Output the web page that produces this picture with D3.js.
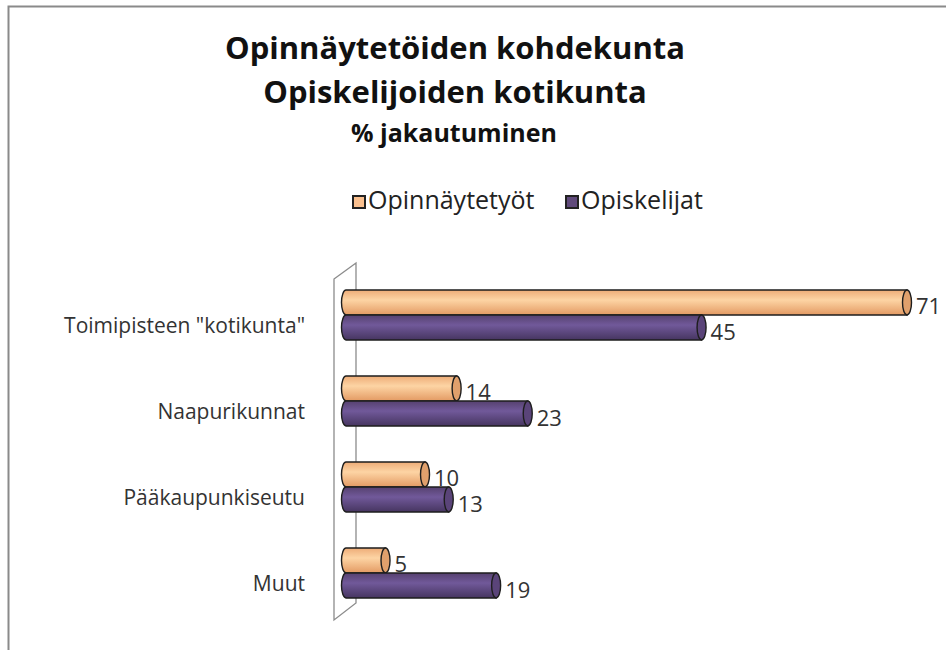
<!DOCTYPE html>
<html>
<head>
<meta charset="utf-8">
<script src="https://cdn.jsdelivr.net/npm/d3@7"></script>
<style>
  html, body { margin: 0; padding: 0; background: #fff; }
  svg { display: block; }
  text { font-family: "Open Sans", "Noto Sans", sans-serif; }
</style>
</head>
<body>
<svg id="chart" width="946" height="650"></svg>
<script>
const titleLines = ["Opinnäytetöiden kohdekunta", "Opiskelijoiden kotikunta"];
const subtitle = "% jakautuminen";
const categories = ["Toimipisteen \"kotikunta\"", "Naapurikunnat", "Pääkaupunkiseutu", "Muut"];
const seriesNames = ["Opinnäytetyöt", "Opiskelijat"];
const opinnaytetyot = [71, 14, 10, 5];
const opiskelijat = [45, 23, 13, 19];

const seriesValues = [opinnaytetyot, opiskelijat];
const palette = {
  "Opinnäytetyöt": { top: "#eeac77", mid: "#fdd4a4", bot: "#e39a63", cap: "#e0a06c", legend: "#fac08f" },
  "Opiskelijat":   { top: "#56416f", mid: "#71599a", bot: "#463560", cap: "#5a4479", legend: "#604a7b" }
};

const svg = d3.select("#chart");
const defs = svg.append("defs");
seriesNames.forEach((s, i) => {
  const g = defs.append("linearGradient").attr("id", "grad" + i)
    .attr("x1", 0).attr("y1", 0).attr("x2", 0).attr("y2", 1);
  g.append("stop").attr("offset", "0%").attr("stop-color", palette[s].top);
  g.append("stop").attr("offset", "40%").attr("stop-color", palette[s].mid);
  g.append("stop").attr("offset", "100%").attr("stop-color", palette[s].bot);
});

// chart border (top & left visible)
svg.append("path").attr("d", "M8.5,650 L8.5,6.5 L946,6.5")
  .attr("fill", "none").attr("stroke", "#8a8a8a").attr("stroke-width", 2);

// titles
svg.append("text").attr("x", 455).attr("y", 59).attr("text-anchor", "middle")
  .attr("font-size", 31).attr("font-weight", "bold").attr("fill", "#111").text(titleLines[0]);
svg.append("text").attr("x", 455).attr("y", 103).attr("text-anchor", "middle")
  .attr("font-size", 31).attr("font-weight", "bold").attr("fill", "#111").text(titleLines[1]);
svg.append("text").attr("x", 454).attr("y", 142).attr("text-anchor", "middle")
  .attr("font-size", 25).attr("font-weight", "bold").attr("fill", "#111").text(subtitle);

// legend
const legendX = [352, 565];
seriesNames.forEach((s, i) => {
  const lg = svg.append("g").attr("transform", `translate(${legendX[i]},0)`);
  lg.append("rect").attr("x", 1).attr("y", 196).attr("width", 12).attr("height", 12)
    .attr("fill", palette[s].legend).attr("stroke", "#222").attr("stroke-width", 2);
  lg.append("text").attr("x", 16).attr("y", 209).attr("font-size", 25).attr("fill", "#222").text(s);
});

// scales
const x = d3.scaleLinear().domain([0, 71]).range([346, 907]);
const y = d3.scaleBand().domain(categories).range([272, 616])
  .paddingInner(0.4186).paddingOuter(0.2093);
const ySub = d3.scaleBand().domain(seriesNames).range([0, y.bandwidth()]);

// back wall
const x0 = x(0);
svg.append("path")
  .attr("d", `M${x0 - 12},279 L${x0 + 10},263 L${x0 + 10},603 L${x0 - 12},620 Z`)
  .attr("fill", "#fff").attr("stroke", "#8c8c8c").attr("stroke-width", 1.3);

// bars (cylinders)
const rx = 4.5;
categories.forEach((c, ci) => {
  seriesNames.forEach((s, si) => {
    const v = seriesValues[si][ci];
    const y0 = y(c) + ySub(s);
    const h = ySub.bandwidth();
    const ry = h / 2;
    const xs = x(0), xe = x(v);
    const g = svg.append("g");
    g.append("path")
      .attr("d", `M${xe},${y0} L${xs},${y0} A${rx},${ry} 0 0 0 ${xs},${y0 + h} L${xe},${y0 + h} Z`)
      .attr("fill", `url(#grad${si})`).attr("stroke", "#1e1e1e").attr("stroke-width", 1.4);
    g.append("ellipse").attr("cx", xe).attr("cy", y0 + ry).attr("rx", rx).attr("ry", ry)
      .attr("fill", palette[s].cap).attr("stroke", "#1e1e1e").attr("stroke-width", 1.4);
    svg.append("text").attr("x", xe + 9).attr("y", y0 + ry + 12)
      .attr("font-size", 22).attr("fill", "#333").text(v);
  });
});

// category labels
categories.forEach(c => {
  svg.append("text").attr("x", 305).attr("y", y(c) + y.bandwidth() / 2 + 18)
    .attr("text-anchor", "end").attr("font-size", 21).attr("fill", "#333").text(c);
});
</script>
</body>
</html>
